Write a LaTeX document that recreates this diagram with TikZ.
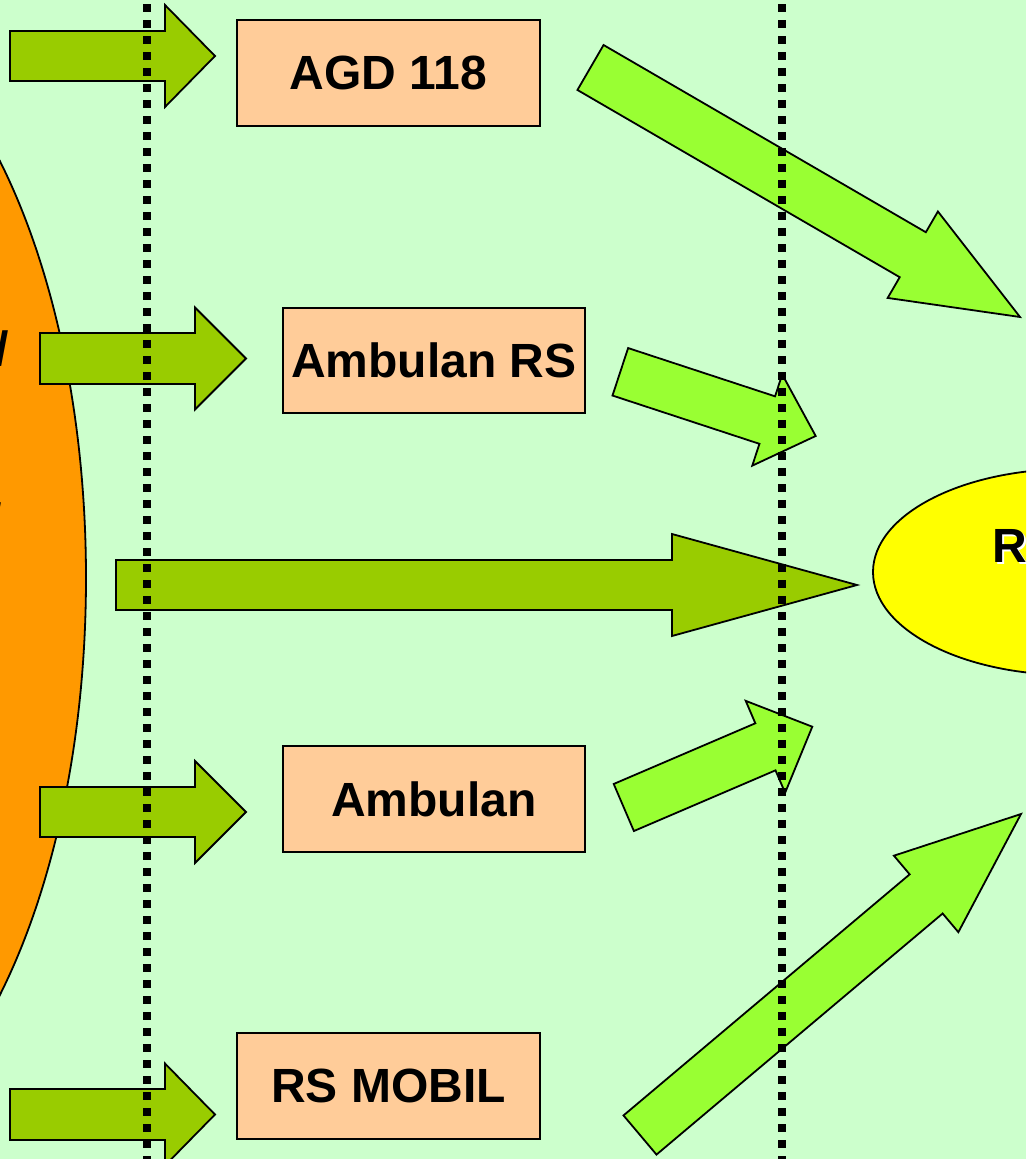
\documentclass[tikz,border=0pt]{standalone}
\usepackage{fontspec}
\setmainfont{Liberation Sans}
\usetikzlibrary{shapes.geometric}

\definecolor{paper}{HTML}{CCFFCC}
\definecolor{source}{HTML}{FF9900}
\definecolor{target}{HTML}{FFFF00}
\definecolor{boxfill}{HTML}{FFCC99}
\definecolor{darkarrow}{HTML}{99CC00}
\definecolor{lightarrow}{HTML}{99FF33}

% Block arrow from tail midpoint (#2,#3) to tip (#4,#5):
% #6 half shaft width, #7 half head width, #8 head length
\newcommand\blockarrow[8]{%
  \pgfmathsetmacro\baAng{atan2(-(#5-#3),#4-#2)}%
  \pgfmathsetmacro\baLen{veclen(#4-#2,#5-#3)}%
  \pgfmathsetmacro\baNeck{\baLen-#8}%
  \begin{scope}[shift={(#2,#3)},rotate=\baAng]
    \draw[#1] (0,-#6) -- (\baNeck,-#6) -- (\baNeck,-#7) -- (\baLen,0)
      -- (\baNeck,#7) -- (\baNeck,#6) -- (0,#6) -- cycle;
  \end{scope}}

\tikzset{
  outline/.style={draw=black, line width=1.8pt, line join=miter},
  flowdark/.style={outline, fill=darkarrow},
  flowlight/.style={outline, fill=lightarrow},
  unitbox/.style={outline, fill=boxfill, rectangle, inner sep=0pt,
    minimum width=303pt, minimum height=106pt,
    font=\fontsize{48}{58}\selectfont\bfseries},
  boundary/.style={draw=black, line width=8pt, dash pattern=on 8pt off 8pt},
  bigtext/.style={inner sep=0pt, font=\fontsize{48}{58}\selectfont\bfseries}
}

\begin{document}
\begin{tikzpicture}[x=1pt, y=-1pt]
  \useasboundingbox (0,0) rectangle (1026,1159);
  \clip (0,0) rectangle (1026,1159);
  \fill[paper] (0,0) rectangle (1026,1159);

  % origin of the flows
  \node[ellipse, outline, fill=source, minimum width=572pt, minimum height=1166pt]
    (origin) at (-200,578) {};
  \node[bigtext, anchor=base east] (slashA) at (9.5,365) {/};
  \node[bigtext, anchor=base east] (slashB) at (2.5,537) {/};

  % destination
  \node[ellipse, outline, fill=target, minimum width=394pt, minimum height=206pt]
    (dest) at (1070,572) {};
  \node[bigtext, anchor=base west, text=white] (destshadow) at (994,564) {R};
  \node[bigtext, anchor=base west] (destlabel) at (992,562) {R};

  % arrows into the transport boxes
  \blockarrow{flowdark}{10}{56}{215}{56}{25}{51}{50}
  \blockarrow{flowdark}{40}{358.5}{246}{358.5}{25.5}{51}{51}
  \blockarrow{flowdark}{116}{585}{857}{585}{25}{51}{185}
  \blockarrow{flowdark}{40}{812}{246}{812}{25}{51}{51}
  \blockarrow{flowdark}{10}{1114.5}{215}{1114.5}{25.5}{51}{50}

  % transport boxes
  \node[unitbox] (agd)   at (388.5,73)   {AGD 118};
  \node[unitbox, minimum width=302pt, minimum height=105pt] (ambrs) at (434,360.5) {Ambulan RS};
  \node[unitbox, minimum width=302pt] (amb)   at (434,799)    {Ambulan};
  \node[unitbox] (mobil) at (388.5,1086) {RS MOBIL};

  % arrows out of the transport boxes
  \blockarrow{flowlight}{590.5}{67.5}{1020}{317}{26}{50}{124}
  \blockarrow{flowlight}{620.3}{371.8}{815.7}{436}{25}{48}{51}
  \blockarrow{flowlight}{623.8}{807.5}{812.3}{726.7}{25.6}{50}{51}
  \blockarrow{flowlight}{640}{1135}{1021}{814}{25.6}{50}{124}

  % zone boundaries
  \coordinate (zoneAtop) at (147,-12);
  \coordinate (zoneAbot) at (147,1172);
  \coordinate (zoneBtop) at (782,-12);
  \coordinate (zoneBbot) at (782,1172);
  \draw[boundary] (zoneAtop) -- (zoneAbot);
  \draw[boundary] (zoneBtop) -- (zoneBbot);
\end{tikzpicture}
\end{document}
